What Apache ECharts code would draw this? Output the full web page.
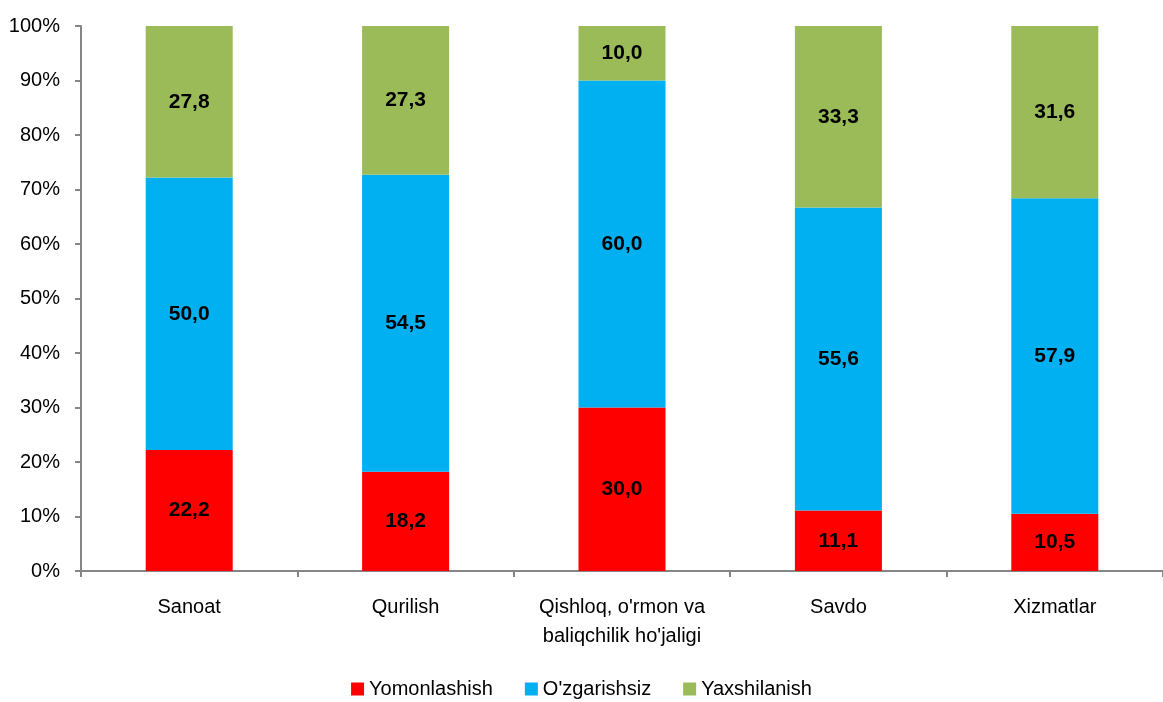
<!DOCTYPE html>
<html lang="uz">
<head>
<meta charset="UTF-8">
<title>Chart</title>
<script src="https://cdn.jsdelivr.net/npm/echarts@6/dist/echarts.min.js"></script>
<style>
  html, body { margin: 0; padding: 0; background: #fff; }
  #main { width: 1163px; height: 702px; }
</style>
</head>
<body>
<div id="main"></div>
<script>
var categories = ['Sanoat', 'Qurilish', "Qishloq, o'rmon va\nbaliqchilik ho'jaligi", 'Savdo', 'Xizmatlar'];
var worse = [22.2, 18.2, 30.0, 11.1, 10.5];
var same = [50.0, 54.5, 60.0, 55.6, 57.9];
var better = [27.8, 27.3, 10.0, 33.3, 31.6];
var seriesNames = ['Yomonlashish', "O'zgarishsiz", 'Yaxshilanish'];
var colors = ['#FF0000', '#00B0F0', '#9BBB59'];

var font = "'Liberation Sans Narrow', 'Arial Narrow', 'Liberation Sans', Arial, sans-serif";
var chart = echarts.init(document.getElementById('main'));

function makeSeries(name, data, color) {
  return {
    name: name,
    type: 'bar',
    stack: 'total',
    data: data,
    barWidth: 87,
    itemStyle: { color: color },
    label: {
      show: true,
      position: 'inside',
      color: '#000',
      fontFamily: font,
      fontWeight: 'bold',
      fontSize: 21,
      formatter: function (p) { return p.value.toFixed(1).replace('.', ','); }
    }
  };
}

chart.setOption({
  animation: false,
  textStyle: { fontFamily: font },
  color: colors,
  grid: { left: 81, top: 26, width: 1092, height: 545, containLabel: false },
  legend: {
    bottom: -2,
    left: 'center',
    itemWidth: 13,
    itemHeight: 13,
    itemGap: 32,
    icon: 'rect',
    textStyle: { fontSize: 20, color: '#000', fontFamily: font },
    data: seriesNames
  },
  xAxis: {
    type: 'category',
    data: categories,
    axisLine: { lineStyle: { color: '#868686', width: 2 } },
    axisTick: { show: true, length: 6, lineStyle: { color: '#868686', width: 2 } },
    axisLabel: { color: '#000', fontSize: 20, margin: 22, lineHeight: 29, fontFamily: font }
  },
  yAxis: {
    type: 'value',
    min: 0,
    max: 100,
    interval: 10,
    axisLine: { show: true, lineStyle: { color: '#868686', width: 2 } },
    axisTick: { show: true, length: 6, lineStyle: { color: '#868686', width: 2 } },
    splitLine: { show: false },
    axisLabel: { color: '#000', fontSize: 20, margin: 21, formatter: '{value}%', fontFamily: font }
  },
  series: [
    makeSeries(seriesNames[0], worse, colors[0]),
    makeSeries(seriesNames[1], same, colors[1]),
    makeSeries(seriesNames[2], better, colors[2])
  ]
});
</script>
</body>
</html>
